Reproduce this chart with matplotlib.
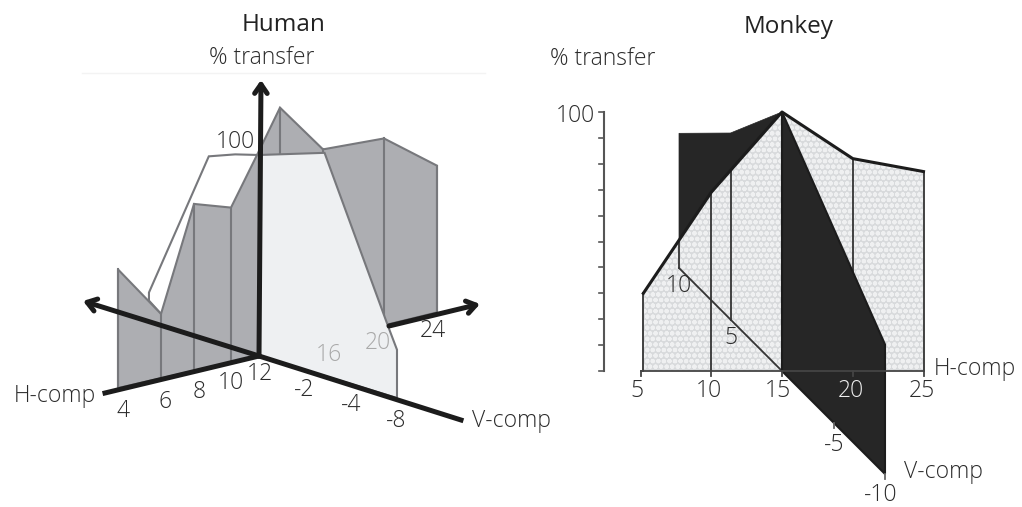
import numpy as np
import matplotlib
matplotlib.use('Agg')
import matplotlib.pyplot as plt
from matplotlib.patches import Polygon

plt.rcParams['font.family'] = ['Open Sans', 'DejaVu Sans']
plt.rcParams['hatch.linewidth'] = 1.5

# Human panel, values
human_h_ticks = [4, 6, 8, 10, 12, 14, 16, 20, 24]
human_wall_pct = [59, 32, 83, 77, 102, 121, 95, 93, 73]
human_white_h = [6, 5.44, 5.44, 8.8, 10.3, 12, 12]
human_white_pct = [32, 40, 44, 105, 103, 100, 0]
human_light_v = [0, -3.8, -7.5, -8]
human_light_pct = [100, 111, 34, 24]

# Monkey panel
monkey_h = [5.2, 10, 15, 20, 25]
monkey_h_pct = [30, 69, 100, 82, 77]
monkey_v_pos = [10, 5, 0]
monkey_v_pos_pct = [52, 72, 100]
monkey_v_neg = [0, -10]
monkey_v_neg_pct = [100, 50]
monkey_y_ticks = [0, 10, 20, 30, 40, 50, 60, 70, 80, 90, 100]
monkey_h_ticks = [5, 10, 15, 20, 25]
monkey_v_ticks = [-5, -10]

# perspective scale of the human drawing
human_h_px = [118, 161, 194, 231, 259, 280, 323, 384, 437]


def human_base(h):
    x = np.interp(h, human_h_ticks, human_h_px)
    slope = np.where(x < 259, 0.227, 0.245)
    return x, 356 + (259 - x) * slope


def human_wall(h, pct):
    x, y = human_base(np.array(h, dtype=float))
    return x, y - 2.01 * np.array(pct, dtype=float)


def human_v(v, pct):
    v = np.array(v, dtype=float)
    return 259 - 17.25 * v, 356 - 5.25 * v - 2.01 * np.array(pct, dtype=float)


def monkey_xy(h, v, pct):
    h, v, pct = np.broadcast_arrays(np.array(h, dtype=float), np.array(v, dtype=float),
                                    np.array(pct, dtype=float))
    return 782 + 14.15 * (h - 15) - 10.3 * v, 371 - 10.3 * v - 2.59 * pct


def poly(ax, x, y, **kw):
    p = Polygon(np.column_stack([x, y]), closed=True, **kw)
    ax.add_patch(p)


def arrow(ax, start, end, lw=3.6):
    ax.annotate('', xy=end, xytext=start, zorder=6,
                arrowprops=dict(arrowstyle='->,head_length=0.65,head_width=0.45', lw=lw,
                                color='#1c1c1c', shrinkA=0, shrinkB=0))


fig = plt.figure(figsize=(10.22, 5.07), dpi=100)
ax = fig.add_axes([0, 0, 1, 1])
ax.set_xlim(0, 1022)
ax.set_ylim(507, 0)
ax.axis('off')

# ---- human ----
GRAY = '#adaeb2'
EDGE = '#77787c'
ax.plot([82, 485], [73, 73], color='#f3f3f3', lw=1, zorder=0)
wx, wy = human_wall(human_white_h, human_white_pct)
poly(ax, wx, wy, facecolor='white', edgecolor=EDGE, lw=1.5, zorder=1)

tx, ty = human_wall(human_h_ticks, human_wall_pct)
bx, by = human_base(np.array(human_h_ticks, dtype=float))
poly(ax, np.r_[tx, bx[::-1]], np.r_[ty, by[::-1]], facecolor=GRAY, edgecolor=EDGE, lw=1.5, zorder=2)
for i in range(len(tx)):
    ax.plot([tx[i], bx[i]], [ty[i], by[i]], color=EDGE, lw=1.5, zorder=2)

lx, ly = human_v(human_light_v, human_light_pct)
base_x, base_y = human_v(human_light_v, [0, 0, 0, 0])
poly(ax, np.r_[lx, base_x[-1], base_x[0]], np.r_[ly, base_y[-1], base_y[0]],
     facecolor='#eef0f2', edgecolor=EDGE, lw=1.5, zorder=3)

ax.plot([105, 259], [393, 356], color='#1c1c1c', lw=3.6, zorder=5)
ax.plot([259, 461], [356, 420], color='#1c1c1c', lw=3.6, zorder=5)
arrow(ax, (259, 356), (83, 301))
arrow(ax, (389, 326), (480, 304))
arrow(ax, (259, 356), (261, 80))

# ---- monkey ----
hx, hy = monkey_xy(monkey_h, 0, monkey_h_pct)
px, py = monkey_xy(15, monkey_v_pos, monkey_v_pos_pct)
pbx, pby = monkey_xy(15, monkey_v_pos, 0)
poly(ax, np.r_[px, pbx[::-1]], np.r_[py, pby[::-1]], facecolor='#262626', edgecolor='#262626',
     lw=0.5, zorder=1)

hbx, hby = monkey_xy(monkey_h, 0, 0)
poly(ax, np.r_[hx, hbx[::-1]], np.r_[hy, hby[::-1]], facecolor='#d8dadc', edgecolor='#eff0f1',
     hatch='ooo', lw=0, zorder=2)
ax.plot(hx, hy, color='#1c1c1c', lw=2.2, zorder=4)

# verticals of the positive V wall stop at the H wall
for vx, vb in zip(pbx[:2], pby[:2]):
    ax.plot([vx, vx], [np.interp(vx, hx, hy), vb], color='#333333', lw=1.3, zorder=3)
ax.plot(pbx, pby, color='#333333', lw=1.3, zorder=3)
for i in [0, 1, 3, 4]:
    ax.plot([hx[i], hbx[i]], [hy[i], hby[i]], color='#333333', lw=1.3, zorder=3)

nx, ny = monkey_xy(15, monkey_v_neg, monkey_v_neg_pct)
nbx, nby = monkey_xy(15, monkey_v_neg, 0)
poly(ax, np.r_[nx, nbx[::-1]], np.r_[ny, nby[::-1]], facecolor='#262626', edgecolor='#1c1c1c',
     lw=1.5, zorder=4)

ax_x, ax_y = monkey_xy(monkey_h_ticks, 0, 0)
ax.plot([ax_x[0], ax_x[-1]], [371, 371], color='#444444', lw=1.3, zorder=5)
for x in ax_x:
    ax.plot([x, x], [371, 376], color='#444444', lw=1.3, zorder=5)
vtx, vty = monkey_xy(15, monkey_v_ticks, 0)
for x, y in zip(vtx, vty):
    ax.plot([x, x], [y, y + 5], color='#666666', lw=1.3, zorder=5)

yt = 371 - 2.59 * np.array(monkey_y_ticks)
ax.plot([604, 604], [yt[0], yt[-1]], color='#555555', lw=1.5, zorder=5)
for y in yt:
    ax.plot([599, 604], [y, y], color='#555555', lw=1.2, zorder=5)

# ---- text ----
FS = 16.5
TXT = '#2b2b2b'
labels = [
    ('% transfer', 262, 58, TXT), ('% transfer', 603, 59, TXT),
    ('100', 235, 142, TXT), ('H-comp', 55, 396, TXT),
    ('4', 123, 411, TXT), ('6', 165, 402, TXT), ('8', 199, 392, TXT),
    ('10', 231, 383, TXT), ('12', 260, 374, TXT),
    ('-2', 304, 390, TXT), ('-4', 351, 405, TXT), ('-8', 396, 421, TXT),
    ('V-comp', 512, 421, TXT), ('16', 329, 355, '#a9a9a9'), ('20', 378, 343, '#a9a9a9'),
    ('24', 433, 331, TXT),
    ('100', 575, 116, TXT), ('5', 637, 391, TXT), ('10', 709, 391, TXT), ('15', 778, 391, TXT),
    ('20', 851, 391, '#eeeeee'), ('25', 922, 391, TXT),
    ('H-comp', 975, 369, TXT), ('V-comp', 943, 472, TXT), ('-5', 834, 445, TXT),
    ('-10', 881, 495, TXT), ('10', 679, 286, TXT), ('5', 731, 338, TXT),
]
for s, x, y, c in labels:
    ax.text(x, y, s, color=c, fontsize=FS, ha='center', va='center', zorder=7, fontweight='light')
ax.text(284, 31, 'Human', color='#222222', fontsize=17.5, ha='center', va='baseline')
ax.text(789, 33, 'Monkey', color='#222222', fontsize=17.5, ha='center', va='baseline')

plt.savefig('out.png', dpi=100)
